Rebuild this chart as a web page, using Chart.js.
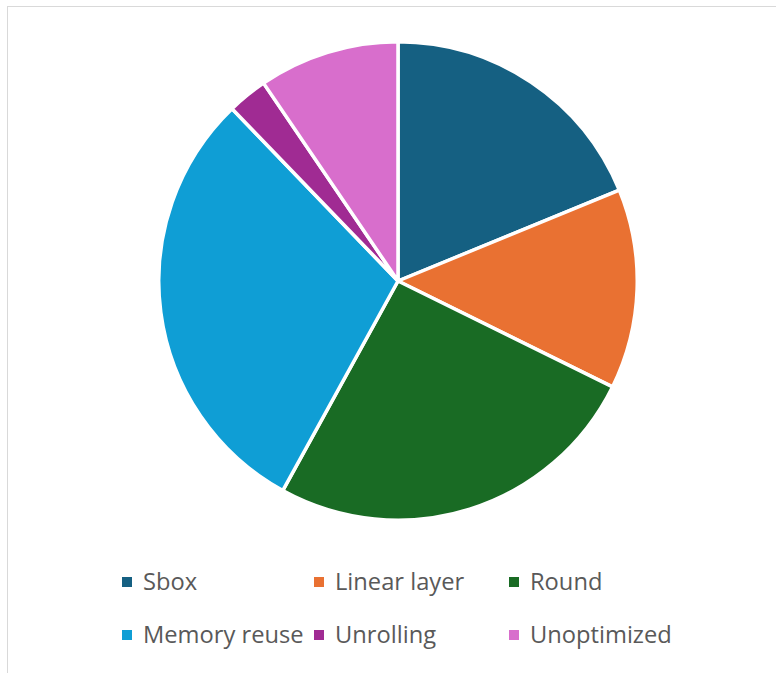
<!DOCTYPE html>
<html>
<head>
<meta charset="utf-8">
<script src="https://cdn.jsdelivr.net/npm/chart.js@4.4.1/dist/chart.umd.min.js"></script>
<style>
  html, body { margin: 0; padding: 0; background: #ffffff; overflow: hidden; width: 776px; height: 673px; }
  #frame { position: absolute; left: 7px; top: 6px; width: 800px; height: 800px; border: 1px solid #d9d9d9; box-sizing: border-box; }
  #wrap { position: absolute; left: 157px; top: 40px; width: 482px; height: 482px; }
  .lg-item { position: absolute; font-family: "Open Sans", sans-serif; font-size: 23.7px; color: #595959; white-space: nowrap; line-height: 30px; }
  .lg-box { position: absolute; width: 10px; height: 10px; }
</style>
</head>
<body>
<div id="frame"></div>
<div id="wrap"><canvas id="c" width="482" height="482"></canvas></div>
<div id="legend"></div>
<script>
const categories = ["Sbox", "Linear layer", "Round", "Memory reuse", "Unrolling", "Unoptimized"];
const values = [18.8, 13.5, 25.7, 29.8, 2.7, 9.5];
const colors = ["#156082", "#E97132", "#196B24", "#0F9ED5", "#A02B93", "#D86ECC"];

const chart = new Chart(document.getElementById("c"), {
  type: "pie",
  data: {
    labels: categories,
    datasets: [{
      data: values,
      backgroundColor: colors,
      borderColor: "#ffffff",
      borderWidth: 3.5,
      hoverOffset: 0
    }]
  },
  options: {
    responsive: false,
    animation: false,
    layout: { padding: 0 },
    plugins: {
      legend: { display: false },
      tooltip: { enabled: false }
    }
  }
});

// HTML legend built from the chart data: 3 columns x 2 rows
const colX = [122, 314, 509];
const rowY = [582, 635];
const legend = document.getElementById("legend");
chart.data.labels.forEach((label, i) => {
  const col = i % 3, row = Math.floor(i / 3);
  const box = document.createElement("div");
  box.className = "lg-box";
  box.style.left = colX[col] + "px";
  box.style.top = (rowY[row] - 5) + "px";
  box.style.background = chart.data.datasets[0].backgroundColor[i];
  legend.appendChild(box);
  const t = document.createElement("div");
  t.className = "lg-item";
  t.textContent = label;
  t.style.left = (colX[col] + 21) + "px";
  t.style.top = (rowY[row] - 16) + "px";
  legend.appendChild(t);
});
</script>
</body>
</html>
